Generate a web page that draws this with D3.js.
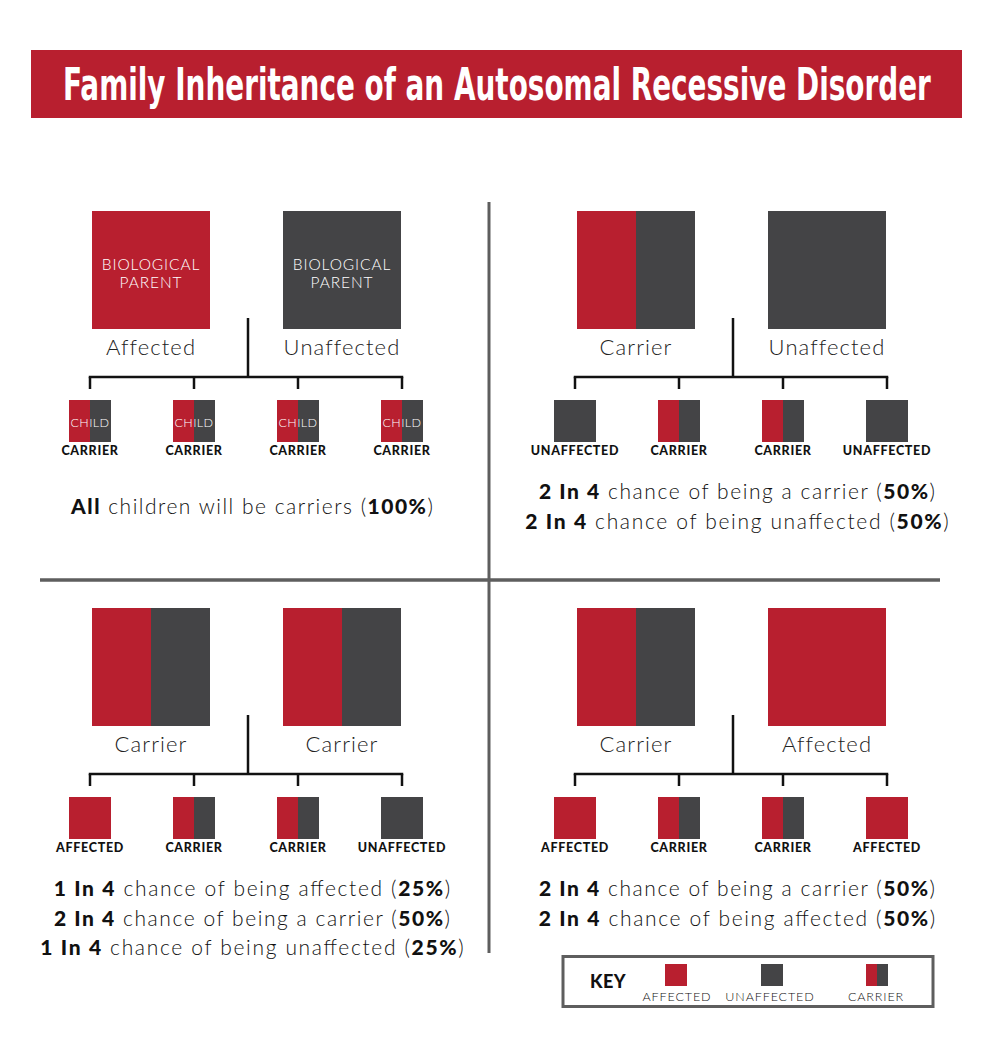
<!DOCTYPE html>
<html><head><meta charset="utf-8">
<script src="https://cdn.jsdelivr.net/npm/d3@7"></script>
<style>body{margin:0;background:#fff} svg{display:block}</style>
</head><body><svg id="c" width="991" height="1037"></svg>
<script>
// ---------- data ----------
const titleText = "Family Inheritance of an Autosomal Recessive Disorder";
const quadrants = ["affected-unaffected", "carrier-unaffected", "carrier-carrier", "carrier-affected"];
const parentStatus = [["affected","unaffected"],["carrier","unaffected"],["carrier","carrier"],["carrier","affected"]];
const parentLabels = [["Affected","Unaffected"],["Carrier","Unaffected"],["Carrier","Carrier"],["Carrier","Affected"]];
const childStatus = [
  ["carrier","carrier","carrier","carrier"],
  ["unaffected","carrier","carrier","unaffected"],
  ["affected","carrier","carrier","unaffected"],
  ["affected","carrier","carrier","affected"]
];
const childLabels = childStatus.map(r => r.map(s => s.toUpperCase()));
const parentInnerText = ["BIOLOGICAL", "PARENT"];
const childInnerText = "CHILD";
const summaries = [
  [[["All",1],[" children will be carriers (",0],["100%",1],[")",0]]],
  [[["2 In 4",1],[" chance of being a carrier (",0],["50%",1],[")",0]],
   [["2 In 4",1],[" chance of being unaffected (",0],["50%",1],[")",0]]],
  [[["1 In 4",1],[" chance of being affected (",0],["25%",1],[")",0]],
   [["2 In 4",1],[" chance of being a carrier (",0],["50%",1],[")",0]],
   [["1 In 4",1],[" chance of being unaffected (",0],["25%",1],[")",0]]],
  [[["2 In 4",1],[" chance of being a carrier (",0],["50%",1],[")",0]],
   [["2 In 4",1],[" chance of being affected (",0],["50%",1],[")",0]]]
];
const keyTitle = "KEY";
const keyStatus = ["affected","unaffected","carrier"];
const keyLabels = ["AFFECTED","UNAFFECTED","CARRIER"];

// ---------- styles ----------
const RED = "#b81f2f", DARK = "#444446", GRID = "#5e5e5e";
const color = d3.scaleOrdinal().domain(["affected","unaffected"]).range([RED, DARK]);
const LIGHT = "Lato, 'Open Sans', sans-serif";
const BOLD = "Lato, 'Open Sans', sans-serif";

const svg = d3.select("#c");

// title bar
svg.append("rect").attr("x",31).attr("y",50).attr("width",931).attr("height",68).attr("fill",RED);
const title = svg.append("text").attr("text-anchor","middle")
  .attr("font-family","'Liberation Sans Narrow','DejaVu Sans Condensed',sans-serif")
  .attr("font-weight","bold").attr("font-size",44).attr("fill","#fff")
  .text(titleText);
const tw = title.node().getComputedTextLength();
title.attr("transform", `translate(497,100) scale(${Math.min(1, 868 / tw)},1)`);

// dividers
svg.append("line").attr("x1",489).attr("x2",489).attr("y1",202).attr("y2",953)
  .attr("stroke",GRID).attr("stroke-width",3);
svg.append("line").attr("x1",40).attr("x2",940).attr("y1",580).attr("y2",580)
  .attr("stroke",GRID).attr("stroke-width",3.5);

// scales for layout
const colX = d3.scaleOrdinal().domain([0,1]).range([92, 577]);
const rowY = d3.scaleOrdinal().domain([0,1]).range([211, 608]);
const parentX = d3.scaleLinear().domain([0,1]).range([0, 191]);
const childX = d3.scaleLinear().domain([0,3]).range([-2, 310]);
const P = 118, C = 42;

function square(g, x, y, s, status) {
  if (status === "carrier") {
    g.append("rect").attr("x",x).attr("y",y).attr("width",s/2+0.5).attr("height",s).attr("fill",RED);
    g.append("rect").attr("x",x+s/2).attr("y",y).attr("width",s/2).attr("height",s).attr("fill",DARK);
  } else {
    g.append("rect").attr("x",x).attr("y",y).attr("width",s).attr("height",s).attr("fill",color(status));
  }
}

quadrants.forEach((q, i) => {
  const col = i % 2, row = Math.floor(i / 2);
  const g = svg.append("g").attr("transform",`translate(${colX(col)},${rowY(row)})`);
  // parents
  parentStatus[i].forEach((st, j) => {
    const x = parentX(j);
    square(g, x, 0, P, st);
    if (i === 0) {
      parentInnerText.forEach((t, k) => {
        g.append("text").attr("x", x + P/2).attr("y", 59 + k*18)
          .attr("text-anchor","middle").attr("font-family",LIGHT).attr("font-weight",300)
          .attr("font-size",15.5).attr("letter-spacing",0.9).attr("fill","#fff").text(t);
      });
    }
    g.append("text").attr("x", x + P/2).attr("y", 144)
      .attr("text-anchor","middle").attr("font-family",LIGHT).attr("font-weight",300)
      .attr("font-size",22).attr("letter-spacing",1.1).attr("fill","#222").text(parentLabels[i][j]);
  });
  // connector
  const cx = 156;
  g.append("line").attr("x1",cx).attr("x2",cx).attr("y1",107).attr("y2",166)
    .attr("stroke","#111").attr("stroke-width",2.5);
  g.append("line").attr("x1",childX(0)-1.25).attr("x2",childX(3)+1.25).attr("y1",166).attr("y2",166)
    .attr("stroke","#111").attr("stroke-width",2.5);
  childStatus[i].forEach((st, k) => {
    const x = childX(k);
    g.append("line").attr("x1",x).attr("x2",x).attr("y1",166).attr("y2",178)
      .attr("stroke","#111").attr("stroke-width",2.5);
    square(g, x - C/2, 189, C, st);
    if (i === 0) {
      g.append("text").attr("x", x).attr("y", 189 + 26.5)
        .attr("text-anchor","middle").attr("font-family",LIGHT).attr("font-weight",300)
        .attr("font-size",12.5).attr("letter-spacing",0.4).attr("fill","#fff").text(childInnerText);
    }
    g.append("text").attr("x", x).attr("y", 244)
      .attr("text-anchor","middle").attr("font-family",BOLD).attr("font-weight",900)
      .attr("font-size",12.5).attr("letter-spacing",0.7).attr("fill","#111").text(childLabels[i][k]);
  });
  // summary lines
  const lines = summaries[i];
  const y0 = lines.length === 1 ? 303 : 288;
  lines.forEach((segs, n) => {
    const t = g.append("text").attr("x",160).attr("y", y0 + n*29.5)
      .attr("text-anchor","middle").attr("font-family",LIGHT).attr("font-size",21)
      .attr("fill","#111");
    segs.forEach(([s, b]) => {
      t.append("tspan").attr("font-weight", b ? 900 : 300).text(s);
    });
    const w = t.node().getComputedTextLength();
    t.attr("textLength", w * 1.17).attr("lengthAdjust","spacing");
  });
});

// key
const kg = svg.append("g");
kg.append("rect").attr("x",563).attr("y",956.5).attr("width",370).attr("height",50)
  .attr("fill","#fff").attr("stroke",GRID).attr("stroke-width",3);
kg.append("text").attr("x",590).attr("y",988).attr("font-family",BOLD).attr("font-weight",900)
  .attr("font-size",18).attr("letter-spacing",0.5).attr("fill","#111").text(keyTitle);
const keyX = d3.scaleOrdinal().domain(keyStatus).range([676, 772, 877]);
const keyLabelX = d3.scaleOrdinal().domain(keyStatus).range([677, 770, 876]);
keyStatus.forEach((st, i) => {
  square(kg, keyX(st) - 11, 964, 22, st);
  kg.append("text").attr("x", keyLabelX(st)).attr("y", 1001)
    .attr("text-anchor","middle").attr("font-family",LIGHT).attr("font-weight",300)
    .attr("font-size",12.5).attr("letter-spacing",0.9).attr("fill","#111").text(keyLabels[i]);
});
</script>
</body></html>
